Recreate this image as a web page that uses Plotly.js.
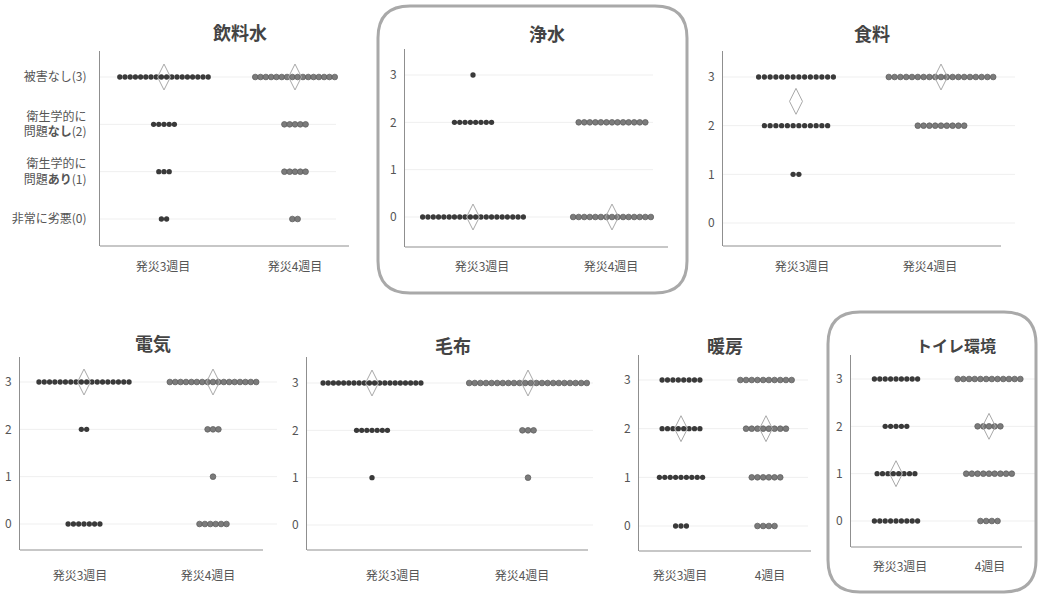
<!DOCTYPE html>
<html><head><meta charset="utf-8">
<script src="https://cdn.plot.ly/plotly-3.0.1.min.js"></script>
<style>html,body{margin:0;padding:0;background:#fff;}#chart{width:1039px;height:599px;}</style>
</head><body><div id="chart"></div>
<script>
// ---------- data ----------
const panelTitles = ['飲料水', '浄水', '食料', '電気', '毛布', '暖房', 'トイレ環境'];
const levels = [3, 2, 1, 0];
// number of respondents at each level (3,2,1,0)
const week3Counts = [[18,5,3,2],[1,8,0,20],[14,12,2,0],[18,2,0,7],[20,7,1,0],[8,8,9,3],[9,5,8,9]];
const week4Counts = [[16,5,5,2],[0,13,0,15],[19,9,0,0],[17,3,1,6],[22,3,1,0],[10,8,6,4],[12,5,9,4]];
const weekLabelsLong = ['発災3週目', '発災4週目'];
const weekLabelsShort = ['発災3週目', '4週目'];
const yLabelsWater = ['非常に劣悪(0)', '衛生学的に<br>問題<b>あり</b>(1)', '衛生学的に<br>問題<b>なし</b>(2)', '被害なし(3)'];
const yLabelsNum = ['0', '1', '2', '3'];

// ---------- layout geometry (pixels) ----------
const W = 1039, H = 599;
const geo = [
  {ax0:100, ax1:349, ge:336, ay0:51,  ay1:246, c0:164, c1:295, g3:77,  g0:219, lab:[163,295], t:[240,32],  ts:18, sp:[5.2,5.3], lo:21, ys:10, xl:weekLabelsLong,  yl:yLabelsWater},
  {ax0:405, ax1:668, ge:653, ay0:49,  ay1:247, c0:473, c1:612, g3:75,  g0:217, lab:[482,611], t:[547,33],  ts:18, sp:[5.3,5.55], lo:20, ys:5, xl:weekLabelsLong, yl:yLabelsNum},
  {ax0:723, ax1:1001,ge:1015,ay0:51,  ay1:246, c0:796, c1:941, g3:77,  g0:223, lab:[802,930], t:[872,33],  ts:18, sp:[5.75,5.8], lo:21, ys:5, xl:weekLabelsLong, yl:yLabelsNum},
  {ax0:20,  ax1:263, ge:277, ay0:357, ay1:550, c0:84,  c1:213, g3:382, g0:524, lab:[80,208],  t:[153,343], ts:18, sp:[5.3,5.4], lo:26, ys:5, xl:weekLabelsLong,  yl:yLabelsNum},
  {ax0:307, ax1:588, ge:593, ay0:357, ay1:550, c0:372, c1:528, g3:383, g0:525, lab:[393,522], t:[453,345], ts:18, sp:[5.15,5.6], lo:26, ys:5, xl:weekLabelsLong,  yl:yLabelsNum},
  {ax0:639, ax1:811, ge:808, ay0:355, ay1:551, c0:681, c1:766, g3:380, g0:526, lab:[680,770], t:[725,345], ts:18, sp:[5.4,5.7], lo:25, ys:5, xl:weekLabelsShort, yl:yLabelsNum},
  {ax0:851, ax1:1022,ge:1035,ay0:355, ay1:547, c0:896, c1:989, g3:379, g0:521, lab:[900,990], t:[956,345], ts:16, sp:[5.4,5.7], lo:20, ys:5, xl:weekLabelsShort, yl:yLabelsNum}
];

function median(counts) {
  const vals = [];
  counts.forEach((n, k) => { for (let i = 0; i < n; i++) vals.push(levels[k]); });
  vals.sort((a, b) => a - b);
  const m = vals.length;
  return m % 2 ? vals[(m - 1) / 2] : (vals[m / 2 - 1] + vals[m / 2]) / 2;
}

const FONT = 'Noto Sans CJK JP, Noto Sans, sans-serif';
const traces = [];
const layout = {
  width: W, height: H, margin: {l:0, r:0, t:0, b:0},
  paper_bgcolor: '#fff', plot_bgcolor: 'rgba(0,0,0,0)',
  showlegend: false, font: {family: FONT, color: '#555', size: 12},
  annotations: [], shapes: []
};

geo.forEach((g, p) => {
  const sfx = p === 0 ? '' : String(p + 1);
  const xa = 'x' + sfx, ya = 'y' + sfx;
  const unitX = g.c1 - g.c0;          // px per x unit
  const unitY = (g.g0 - g.g3) / 3;    // px per y unit
  const dEnd = Math.max(g.ax1, g.ge);
  const span = dEnd - g.ax0;
  [week3Counts[p], week4Counts[p]].forEach((counts, w) => {
    const xs = [], ys = [];
    counts.forEach((n, k) => {
      for (let i = 0; i < n; i++) {
        xs.push(w + (i - (n - 1) / 2) * g.sp[w] / unitX);
        ys.push(levels[k]);
      }
    });
    traces.push({
      type: 'scatter', mode: 'markers', x: xs, y: ys, xaxis: xa, yaxis: ya,
      hoverinfo: 'skip', cliponaxis: false,
      marker: w === 0
        ? {size: 5.3, color: '#3a3a3a', line: {width: 0}}
        : {size: 5.7, color: '#7b7b7b', line: {width: 0.7, color: '#5a5a5a'}}
    });
  });
  traces.push({
    type: 'scatter', mode: 'markers', x: [0, 1], y: [median(week3Counts[p]), median(week4Counts[p])],
    xaxis: xa, yaxis: ya, hoverinfo: 'skip', cliponaxis: false,
    marker: {symbol: 'diamond-tall-open', size: 18.5, color: '#a8a8a8', line: {width: 1, color: '#a8a8a8'}}
  });

  layout['xaxis' + sfx] = {
    domain: [g.ax0 / W, dEnd / W], anchor: ya,
    range: [(g.ax0 - g.c0) / unitX, (dEnd - g.c0) / unitX],
    tickvals: g.lab.map(v => (v - g.c0) / unitX), ticktext: g.xl,
    showgrid: false, zeroline: false, showline: false,
    ticks: '', ticklabelstandoff: g.lo - 9, tickfont: {size: 12, color: '#555', family: FONT},
    fixedrange: true
  };
  layout['yaxis' + sfx] = {
    domain: [1 - g.ay1 / H, 1 - g.ay0 / H], anchor: xa,
    range: [(g.g0 - g.ay1) / unitY, (g.g0 - g.ay0) / unitY],
    tickvals: [0, 1, 2, 3], ticktext: g.yl,
    showgrid: false, zeroline: false,
    showline: true, linecolor: '#8f8f8f', linewidth: 1,
    ticks: '', ticklabelstandoff: g.ys, tickfont: {size: 12, color: '#555', family: FONT},
    fixedrange: true
  };
  // light horizontal gridlines at each level
  levels.forEach(v => layout.shapes.push({
    type: 'line', xref: xa + ' domain', yref: ya, x0: 0, x1: (g.ge - g.ax0) / span, y0: v, y1: v,
    line: {color: '#efefef', width: 1}, layer: 'below'
  }));
  // bottom axis line
  layout.shapes.push({
    type: 'line', xref: xa + ' domain', yref: ya + ' domain', x0: 0, x1: (g.ax1 - g.ax0) / span, y0: 0, y1: 0,
    line: {color: '#8f8f8f', width: 1}
  });
  layout.annotations.push({
    xref: 'paper', yref: 'paper', x: g.t[0] / W, y: 1 - g.t[1] / H,
    xanchor: 'center', yanchor: 'middle', showarrow: false,
    text: '<b>' + panelTitles[p] + '</b>', font: {size: g.ts, color: '#444', family: FONT}
  });
});

function roundedBox(x0, y0, x1, y1, r) {
  const X = v => (v / W).toFixed(5), Y = v => (1 - v / H).toFixed(5);
  return `M${X(x0 + r)},${Y(y0)} L${X(x1 - r)},${Y(y0)} Q${X(x1)},${Y(y0)} ${X(x1)},${Y(y0 + r)} ` +
         `L${X(x1)},${Y(y1 - r)} Q${X(x1)},${Y(y1)} ${X(x1 - r)},${Y(y1)} ` +
         `L${X(x0 + r)},${Y(y1)} Q${X(x0)},${Y(y1)} ${X(x0)},${Y(y1 - r)} ` +
         `L${X(x0)},${Y(y0 + r)} Q${X(x0)},${Y(y0)} ${X(x0 + r)},${Y(y0)} Z`;
}
layout.shapes.push({type: 'path', xref: 'paper', yref: 'paper', path: roundedBox(378, 6, 687, 293, 32), line: {color: '#a9a9a9', width: 3}});
layout.shapes.push({type: 'path', xref: 'paper', yref: 'paper', path: roundedBox(828, 312, 1036, 592, 32), line: {color: '#a9a9a9', width: 3}});

Plotly.newPlot('chart', traces, layout, {displayModeBar: false, staticPlot: true});
</script>
</body></html>
